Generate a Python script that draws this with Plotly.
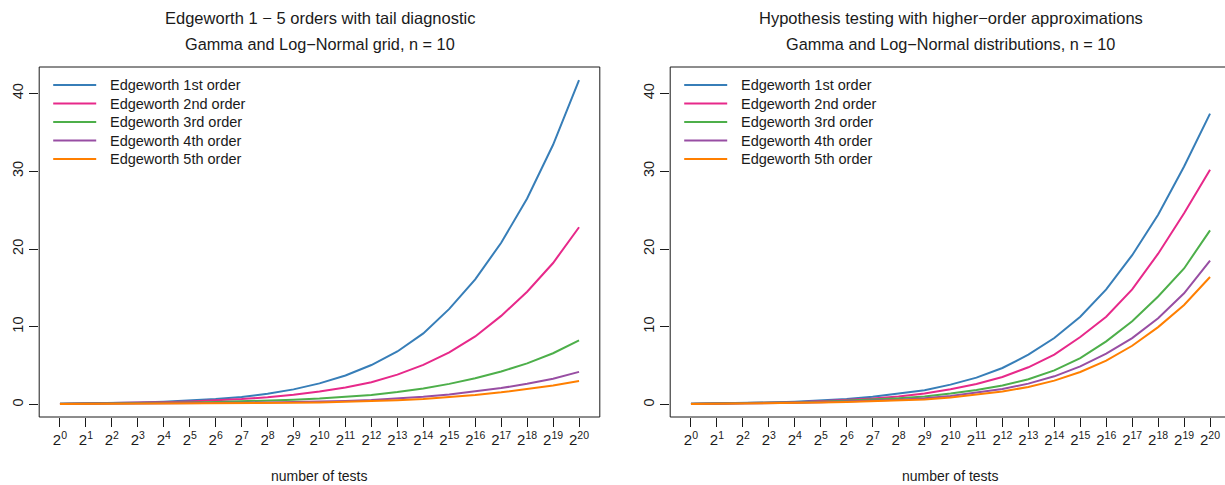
import plotly.graph_objects as go

# ---------------- data ----------------
exponents = [0, 1, 2, 3, 4, 5, 6, 7, 8, 9, 10, 11, 12, 13, 14, 15, 16, 17, 18, 19, 20]
tick_labels = ["2<sup>%d</sup>" % k for k in exponents]
y_ticks = [0, 10, 20, 30, 40]
series_names = ["Edgeworth 1st order", "Edgeworth 2nd order", "Edgeworth 3rd order",
                "Edgeworth 4th order", "Edgeworth 5th order"]
series_colors = ["#377EB8", "#E7298A", "#4DAF4A", "#984EA3", "#FF7F00"]

left_1st = [0.10, 0.14, 0.19, 0.26, 0.36, 0.50, 0.70, 0.98, 1.38, 1.95, 2.72, 3.74, 5.08, 6.82, 9.15, 12.3, 16.1, 20.8, 26.5, 33.4, 41.7]
left_2nd = [0.10, 0.13, 0.17, 0.23, 0.30, 0.39, 0.52, 0.70, 0.93, 1.25, 1.67, 2.20, 2.86, 3.85, 5.10, 6.70, 8.76, 11.4, 14.5, 18.2, 22.8]
left_3rd = [0.09, 0.11, 0.14, 0.17, 0.21, 0.26, 0.32, 0.40, 0.50, 0.62, 0.77, 0.96, 1.22, 1.60, 2.07, 2.66, 3.38, 4.25, 5.30, 6.60, 8.25]
left_4th = [0.08, 0.09, 0.10, 0.12, 0.14, 0.16, 0.19, 0.23, 0.27, 0.32, 0.38, 0.47, 0.60, 0.77, 1.01, 1.30, 1.67, 2.12, 2.67, 3.33, 4.20]
left_5th = [0.06, 0.07, 0.08, 0.09, 0.10, 0.12, 0.14, 0.16, 0.19, 0.22, 0.26, 0.34, 0.43, 0.55, 0.72, 0.94, 1.22, 1.57, 1.97, 2.44, 3.02]

right_1st = [0.10, 0.14, 0.19, 0.26, 0.36, 0.50, 0.70, 1.00, 1.38, 1.84, 2.56, 3.46, 4.70, 6.41, 8.55, 11.3, 14.8, 19.2, 24.4, 30.6, 37.4]
right_2nd = [0.10, 0.13, 0.17, 0.23, 0.31, 0.42, 0.57, 0.77, 1.04, 1.41, 1.97, 2.65, 3.55, 4.79, 6.41, 8.68, 11.3, 14.8, 19.4, 24.6, 30.2]
right_3rd = [0.09, 0.12, 0.16, 0.21, 0.28, 0.37, 0.49, 0.64, 0.82, 1.05, 1.41, 1.88, 2.44, 3.25, 4.40, 5.98, 8.12, 10.7, 13.9, 17.5, 22.4]
right_4th = [0.08, 0.10, 0.13, 0.17, 0.22, 0.29, 0.37, 0.48, 0.62, 0.82, 1.11, 1.54, 2.01, 2.69, 3.63, 4.91, 6.54, 8.55, 11.1, 14.3, 18.5]
right_5th = [0.07, 0.09, 0.12, 0.15, 0.20, 0.26, 0.33, 0.42, 0.53, 0.66, 0.90, 1.24, 1.67, 2.27, 3.08, 4.19, 5.64, 7.56, 9.96, 12.8, 16.4]

left_title = ["Edgeworth 1 \u2212 5 orders with tail diagnostic", "Gamma and Log\u2212Normal grid, n = 10"]
right_title = ["Hypothesis testing with higher\u2212order approximations", "Gamma and Log\u2212Normal distributions, n = 10"]
x_title = "number of tests"

# ---------------- layout geometry (pixels) ----------------
W, H = 1225, 485
FONT = "Liberation Sans, Arial, Helvetica, sans-serif"
INK = "#1a1a1a"
px_per_unit = 560.6 / 21.6
L_box = (39.2, 599.8)
R_box = (670.2, 670.2 + 560.6)
box_top, box_bot = 67.0, 417.0
y_range = [-1.6, 43.4]
legend_rows = [85.0, 103.5, 122.0, 140.5, 159.0]


def px_x(p):
    return p / W


def px_y(p):
    return 1 - p / H


fig = go.Figure()

left_series = [left_1st, left_2nd, left_3rd, left_4th, left_5th]
right_series = [right_1st, right_2nd, right_3rd, right_4th, right_5th]

for name, col, ys in zip(series_names, series_colors, left_series):
    fig.add_trace(go.Scatter(x=exponents, y=ys, mode="lines", name=name,
                             line=dict(color=col, width=2), xaxis="x", yaxis="y",
                             showlegend=False))
for name, col, ys in zip(series_names, series_colors, right_series):
    fig.add_trace(go.Scatter(x=exponents, y=ys, mode="lines", name=name,
                             line=dict(color=col, width=2), xaxis="x2", yaxis="y2",
                             showlegend=False))

ydom = [px_y(box_bot), px_y(box_top)]
xaxis_common = dict(tickmode="array", tickvals=exponents, ticktext=tick_labels,
                    ticks="outside", ticklen=9, tickwidth=1, tickcolor=INK,
                    showgrid=False, zeroline=False, showline=False,
                    tickfont=dict(family=FONT, size=15, color=INK))
yaxis_common = dict(tickmode="array", tickvals=y_ticks, ticks="outside", ticklen=9,
                    tickwidth=1, tickcolor=INK, showgrid=False, zeroline=False,
                    showline=False, tickangle=-90, range=y_range, domain=ydom,
                    tickfont=dict(family=FONT, size=14.5, color=INK))

right_xmax = -0.8 + (W - R_box[0]) / px_per_unit

fig.update_layout(
    width=W, height=H,
    margin=dict(l=0, r=0, t=0, b=0),
    paper_bgcolor="white", plot_bgcolor="white",
    font=dict(family=FONT, color=INK),
    showlegend=False,
    xaxis=dict(domain=[px_x(L_box[0]), px_x(L_box[1])], range=[-0.8, 20.8], anchor="y", **xaxis_common),
    yaxis=dict(anchor="x", **yaxis_common),
    xaxis2=dict(domain=[px_x(R_box[0]), 1.0], range=[-0.8, right_xmax], anchor="y2", **xaxis_common),
    yaxis2=dict(anchor="x2", **yaxis_common),
)

# plot boxes
for (x0, x1) in (L_box, R_box):
    fig.add_shape(type="rect", xref="paper", yref="paper",
                  x0=px_x(x0), x1=px_x(x1), y0=px_y(box_bot), y1=px_y(box_top),
                  line=dict(color=INK, width=1), fillcolor="rgba(0,0,0,0)", layer="above")

# legends (one per panel, drawn inside the top-left of each box)
for (x0, x1) in (L_box, R_box):
    for name, col, ry in zip(series_names, series_colors, legend_rows):
        fig.add_shape(type="line", xref="paper", yref="paper",
                      x0=px_x(x0 + 14), x1=px_x(x0 + 57), y0=px_y(ry), y1=px_y(ry),
                      line=dict(color=col, width=2))
        fig.add_annotation(x=px_x(x0 + 69), y=px_y(ry), xref="paper", yref="paper",
                           text=name, showarrow=False, xanchor="left", yanchor="middle",
                           font=dict(family=FONT, size=14.5, color=INK))

# titles and x-axis titles
for (x0, x1), titles in ((L_box, left_title), (R_box, right_title)):
    cx = px_x((x0 + x1) / 2)
    fig.add_annotation(x=cx, y=px_y(18), xref="paper", yref="paper", text=titles[0],
                       showarrow=False, xanchor="center", yanchor="middle",
                       font=dict(family=FONT, size=16.5, color=INK))
    fig.add_annotation(x=cx, y=px_y(44), xref="paper", yref="paper", text=titles[1],
                       showarrow=False, xanchor="center", yanchor="middle",
                       font=dict(family=FONT, size=16.3, color=INK))
    fig.add_annotation(x=cx, y=px_y(476), xref="paper", yref="paper", text=x_title,
                       showarrow=False, xanchor="center", yanchor="middle",
                       font=dict(family=FONT, size=14, color=INK))

fig.write_html("out.html")
